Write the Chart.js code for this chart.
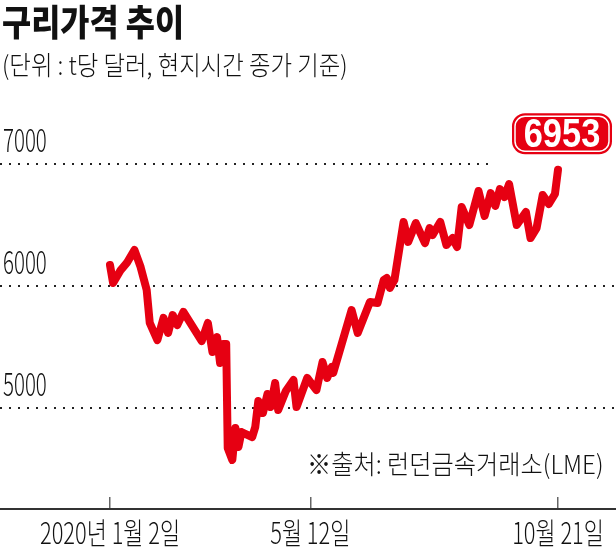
<!DOCTYPE html>
<html>
<head>
<meta charset="utf-8">
<script src="https://cdn.jsdelivr.net/npm/chart.js@4/dist/chart.umd.min.js"></script>
<style>
  body { margin: 0; background: #fff; }
  #wrap { position: relative; width: 616px; height: 549px; overflow: hidden; }
  #chart { position: absolute; left: 0; top: 0; }
  .txt { position: absolute; white-space: nowrap; color: #111; font-family: "Noto Sans CJK KR", sans-serif; transform-origin: left top; }
  #title { left: 2px; top: -6px; font-size: 36px; font-weight: 900; transform: scaleX(0.88); }
  #sub { left: 2px; top: 45px; font-size: 26px; font-weight: 300; transform: scaleX(0.9); }
  #note { left: 307px; top: 444px; font-size: 26px; font-weight: 300; transform: scaleX(0.93); }
</style>
</head>
<body>
<div id="wrap">
  <canvas id="chart" width="616" height="549"></canvas>
  <div class="txt" id="title">구리가격 추이</div>
  <div class="txt" id="sub">(단위 : t당 달러, 현지시간 종가 기준)</div>
  <div class="txt" id="note">※출처: 런던금속거래소(LME)</div>
</div>
<script>
// days counted from 2020-01-02
const days = [0, 2, 7, 11, 16, 20, 24, 26, 31, 35, 38, 41, 44, 48, 60, 64, 67, 70, 72, 74,
    76, 77, 80, 82, 84, 86, 93, 95, 97, 100, 103, 105, 108, 110, 115, 120, 122, 129, 135, 139,
    142, 145, 146, 158, 162, 170, 175, 179, 181, 183, 186, 192, 195, 200, 206, 209, 211, 216, 220, 224,
    227, 230, 235, 241, 245, 249, 252, 255, 258, 261, 266, 272, 275, 279, 283, 287, 291, 293];
const prices = [6172, 6025, 6131, 6189, 6295, 6156, 5967, 5697, 5557, 5738, 5615, 5762, 5680, 5787, 5549, 5697, 5459, 5582, 5369, 5525,
    5525, 4672, 4574, 4836, 4680, 4803, 4762, 4844, 5057, 4959, 5115, 5008, 5205, 4984, 5139, 5229, 5008, 5246, 5147, 5377,
    5246, 5336, 5287, 5803, 5615, 5869, 5861, 6049, 6066, 5984, 6049, 6525, 6361, 6516, 6352, 6475, 6418, 6525, 6336, 6393,
    6320, 6648, 6500, 6779, 6574, 6762, 6656, 6795, 6729, 6836, 6500, 6607, 6393, 6475, 6746, 6672, 6754, 6953];

const dayTicks = [0, 131, 293];
const dayLabels = ['2020년 1월 2일', '5월 12일', '10월 21일'];
const priceTicks = [5000, 6000, 7000];

const red = '#e60012';
const labelFont = '"Noto Sans CJK KR", sans-serif';

// squeeze tick labels horizontally (the original uses a condensed face)
function condense(scale, f) {
    if (scale._condensed) return;
    scale._condensed = true;
    const draw = scale.drawLabels.bind(scale);
    scale.drawLabels = function (area) {
        const ctx = scale.ctx;
        const fill = ctx.fillText;
        ctx.fillText = function (text, x, y) {
            this.save();
            this.scale(f, 1);
            fill.call(this, text, x / f, y);
            this.restore();
        };
        draw(area);
        delete ctx.fillText;
    };
}

// last value badge + cut the 7000 gridline short
const badgePlugin = {
    id: 'badge',
    beforeDatasetsDraw(chart) {
        const ctx = chart.ctx;
        ctx.save();
        ctx.fillStyle = '#fff';
        ctx.fillRect(490, 156, 126, 14);
        ctx.restore();
    },
    afterDatasetsDraw(chart) {
        const ctx = chart.ctx;
        const pts = chart.getDatasetMeta(0).data;
        const last = pts[pts.length - 1];
        const w = 100, h = 41;
        const cx = last.x + 4, cy = last.y - 36;
        ctx.save();
        ctx.fillStyle = red;
        ctx.beginPath();
        ctx.roundRect(cx - w / 2, cy - h / 2, w, h, 13);
        ctx.fill();
        ctx.strokeStyle = '#fff';
        ctx.lineWidth = 1.5;
        ctx.beginPath();
        ctx.roundRect(cx - w / 2 + 3, cy - h / 2 + 3, w - 6, h - 6, 10);
        ctx.stroke();
        ctx.fillStyle = '#fff';
        ctx.font = 'bold 41px "Liberation Sans", sans-serif';
        ctx.textAlign = 'center';
        ctx.textBaseline = 'middle';
        ctx.translate(cx, cy + 2);
        ctx.scale(0.84, 1);
        ctx.fillText(String(prices[prices.length - 1]), 0, 0);
        ctx.restore();
    }
};

new Chart(document.getElementById('chart'), {
    type: 'line',
    data: {
        datasets: [{
            data: days.map((d, i) => ({ x: d, y: prices[i] })),
            borderColor: red,
            borderWidth: 8,
            borderJoinStyle: 'round',
            borderCapStyle: 'round',
            pointRadius: 0,
            tension: 0
        }]
    },
    options: {
        responsive: false,
        animation: false,
        devicePixelRatio: 1,
        layout: { padding: { top: 100, left: 0, right: 0, bottom: 0 } },
        plugins: { legend: { display: false }, tooltip: { enabled: false } },
        scales: {
            x: {
                type: 'linear',
                min: -71.94,
                max: 330.93,
                afterBuildTicks: s => { s.ticks = dayTicks.map(v => ({ value: v })); },
                afterFit: s => {
                    s.height = 40;
                    s.paddingLeft = 0;
                    s.paddingRight = 0;
                    condense(s, 0.74);
                },
                grid: {
                    drawOnChartArea: false,
                    drawTicks: true,
                    tickLength: -12,
                    color: '#666',
                    lineWidth: 1.5
                },
                border: { display: true, color: '#333', width: 2 },
                ticks: {
                    padding: 18,
                    autoSkip: false,
                    maxRotation: 0,
                    color: '#111',
                    font: { family: labelFont, size: 29.5, weight: '300' },
                    callback: v => dayLabels[dayTicks.indexOf(v)]
                }
            },
            y: {
                min: 4172,
                max: 7524.6,
                afterBuildTicks: s => { s.ticks = priceTicks.map(v => ({ value: v })); },
                afterFit: s => {
                    s.width = 0;
                    s.paddingTop = 0;
                    s.paddingBottom = 0;
                    condense(s, 0.64);
                },
                border: { display: false, dash: [2, 7] },
                grid: {
                    color: '#222',
                    lineWidth: 2,
                    drawTicks: false
                },
                ticks: {
                    mirror: true,
                    padding: 3,
                    labelOffset: -24,
                    color: '#111',
                    font: { family: labelFont, size: 32, weight: '300' },
                    callback: v => String(v)
                }
            }
        }
    },
    plugins: [badgePlugin]
});
</script>
</body>
</html>
